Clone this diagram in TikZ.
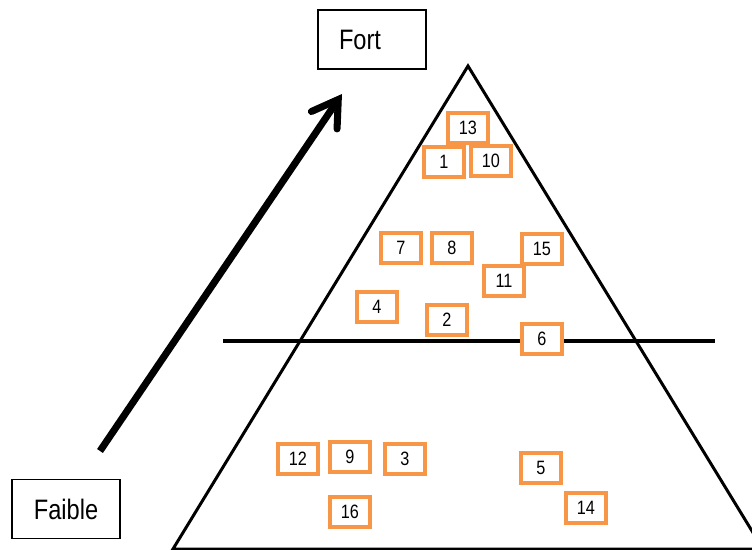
\documentclass[tikz,border=0pt]{standalone}
\usepackage{fontspec}
\setmainfont[FakeStretch=0.84]{Liberation Sans}
\usetikzlibrary{arrows.meta}
\definecolor{rankorange}{RGB}{247,150,70}

\begin{document}
\begin{tikzpicture}[x=0.02cm, y=-0.02cm,
    label box/.style={draw, line width=0.8pt, minimum width=2.16cm, minimum height=1.18cm,
      inner sep=0pt, font=\fontsize{16}{19}\selectfont},
    rank/.style={draw=rankorange, fill=white, line width=2pt, minimum width=0.8cm,
      minimum height=0.6cm, inner sep=0pt, font=\fontsize{11}{13}\selectfont}]

  \clip (0,0) rectangle (752,550);

  % Pyramid and dividing line
  \coordinate (top) at (468,66);
  \coordinate (bl) at (173,549);
  \coordinate (br) at (763,549);
  \draw[line width=1.7pt, line join=miter] (bl) -- (top) -- (br) -- cycle;
  \coordinate (cutl) at (223,341);
  \coordinate (cutr) at (715,341);
  \draw[line width=1.8pt] (cutl) -- (cutr);

  % Scale labels
  \node[label box] (fort) at (372,39.5) {Fort\kern0.48cm};
  \node[label box] (faible) at (66,509) {Faible};

  % Weak -> strong arrow
  \coordinate (weak) at (100,451);
  \coordinate (strong) at (342,94);
  \draw[line width=4pt, -{Straight Barb[length=0.5cm, width=0.62cm, line cap=round]}] (weak) -- (strong);

  % Upper part
  \node[rank] (b13) at (468,128) {13};
  \node[rank] (b1) at (444,162) {1};
  \node[rank] (b10) at (491,161) {10};
  \node[rank] (b7) at (401,248) {7};
  \node[rank] (b8) at (452,248) {8};
  \node[rank] (b15) at (542,249) {15};
  \node[rank] (b11) at (504,281) {11};
  \node[rank] (b4) at (377,307) {4};
  \node[rank] (b2) at (447,320) {2};
  \node[rank] (b6) at (542,339) {6};

  % Lower part
  \node[rank] (b12) at (298,459) {12};
  \node[rank] (b9) at (350,457) {9};
  \node[rank] (b3) at (405,459) {3};
  \node[rank] (b16) at (350,512) {16};
  \node[rank] (b5) at (541,468) {5};
  \node[rank] (b14) at (586,508) {14};
\end{tikzpicture}
\end{document}
